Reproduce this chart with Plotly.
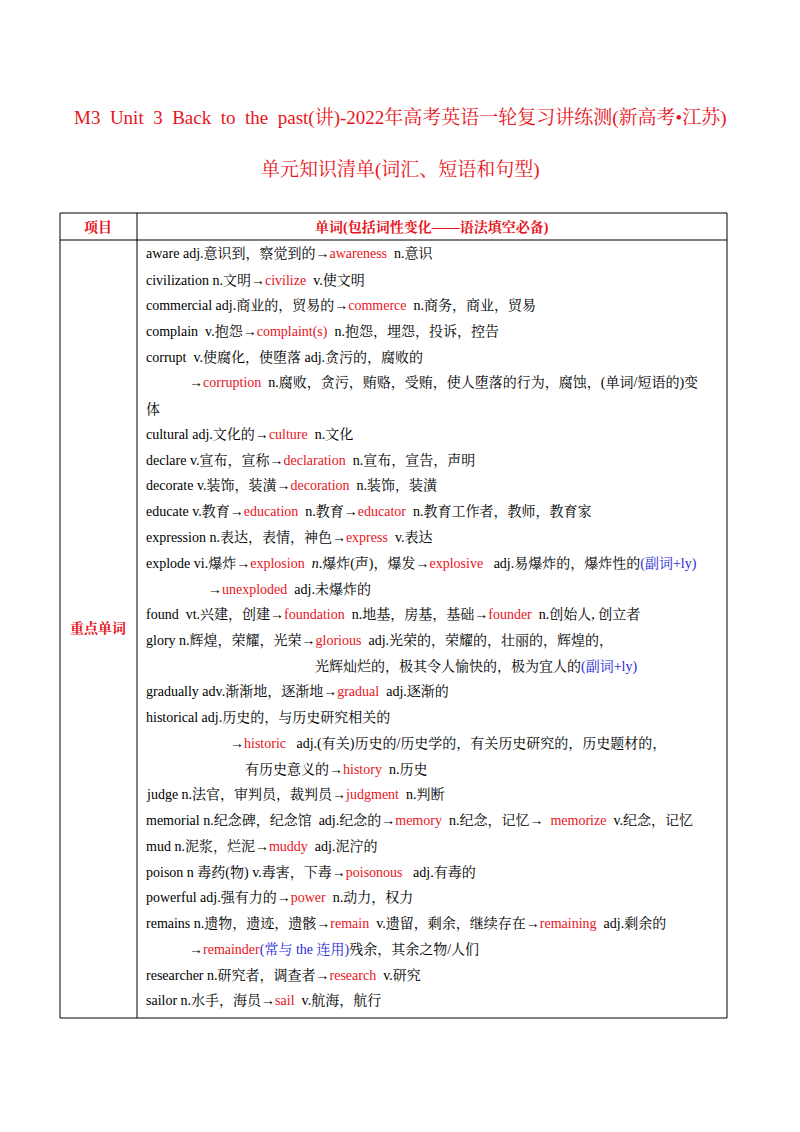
import plotly.graph_objects as go

title1 = "M3  Unit  3  Back  to  the  past(讲)-2022年高考英语一轮复习讲练测(新高考•江苏)"
title2 = "单元知识清单(词汇、短语和句型)"
header_left = "项目"
header_right = "单词(包括词性变化——语法填空必备)"
row_label = "重点单词"

K, R, B = "#000000", "#e8141b", "#2b2bd9"
lines = [
    (144, [("aware adj.意识到，察觉到的→", K), ("awareness", R), ("  n.意识", K)]),
    (144, [("civilization n.文明→", K), ("civilize", R), ("  v.使文明", K)]),
    (144, [("commercial adj.商业的，贸易的→", K), ("commerce", R), ("  n.商务，商业，贸易", K)]),
    (144, [("complain  v.抱怨→", K), ("complaint(s)", R), ("  n.抱怨，埋怨，投诉，控告", K)]),
    (144, [("corrupt  v.使腐化，使堕落 adj.贪污的，腐败的", K)]),
    (187, [("→", K), ("corruption", R), ("  n.腐败，贪污，贿赂，受贿，使人堕落的行为，腐蚀，(单词/短语的)变", K)]),
    (144, [("体", K)]),
    (144, [("cultural adj.文化的→", K), ("culture", R), ("  n.文化", K)]),
    (144, [("declare v.宣布，宣称→", K), ("declaration", R), ("  n.宣布，宣告，声明", K)]),
    (144, [("decorate v.装饰，装潢→", K), ("decoration", R), ("  n.装饰，装潢", K)]),
    (144, [("educate v.教育→", K), ("education", R), ("  n.教育→", K), ("educator", R), ("  n.教育工作者，教师，教育家", K)]),
    (144, [("expression n.表达，表情，神色→", K), ("express", R), ("  v.表达", K)]),
    (144, [("explode vi.爆炸→", K), ("explosion", R), ("  <i>n</i>.爆炸(声)，爆发→", K), ("explosive", R), ("   adj.易爆炸的，爆炸性的", K), ("(副词+ly)", B)]),
    (206, [("→", K), ("unexploded", R), ("  adj.未爆炸的", K)]),
    (144, [("found  vt.兴建，创建→", K), ("foundation", R), ("  n.地基，房基，基础→", K), ("founder", R), ("  n.创始人, 创立者", K)]),
    (144, [("glory n.辉煌，荣耀，光荣→", K), ("glorious", R), ("  adj.光荣的，荣耀的，壮丽的，辉煌的，", K)]),
    (313, [("光辉灿烂的，极其令人愉快的，极为宜人的", K), ("(副词+ly)", B)]),
    (144, [("gradually adv.渐渐地，逐渐地→", K), ("gradual", R), ("  adj.逐渐的", K)]),
    (144, [("historical adj.历史的，与历史研究相关的", K)]),
    (228, [("→", K), ("historic", R), ("   adj.(有关)历史的/历史学的，有关历史研究的，历史题材的，", K)]),
    (243, [("有历史意义的→", K), ("history", R), ("  n.历史", K)]),
    (144, [("judge n.法官，审判员，裁判员→", K), ("judgment", R), ("  n.判断", K)]),
    (144, [("memorial n.纪念碑，纪念馆  adj.纪念的→", K), ("memory", R), ("  n.纪念，记忆→  ", K), ("memorize", R), ("  v.纪念，记忆", K)]),
    (144, [("mud n.泥浆，烂泥→", K), ("muddy", R), ("  adj.泥泞的", K)]),
    (144, [("poison n 毒药(物) v.毒害，下毒→", K), ("poisonous", R), ("   adj.有毒的", K)]),
    (144, [("powerful adj.强有力的→", K), ("power", R), ("  n.动力，权力", K)]),
    (144, [("remains n.遗物，遗迹，遗骸→", K), ("remain", R), ("  v.遗留，剩余，继续存在→", K), ("remaining", R), ("  adj.剩余的", K)]),
    (187, [("→", K), ("remainder", R), ("(常与 the 连用)", B), ("残余，其余之物/人们", K)]),
    (144, [("researcher n.研究者，调查者→", K), ("research", R), ("  v.研究", K)]),
    (144, [("sailor n.水手，海员→", K), ("sail", R), ("  v.航海，航行", K)]),
]

FONT = "Liberation Serif, Noto Serif CJK SC, Noto Sans CJK SC"
OFF = 8
fig = go.Figure()
ann = []
ann.append(dict(x=400 - OFF, y=118 - OFF, text=title1, font=dict(size=19, color=R, family=FONT), showarrow=False, xanchor="center", yanchor="middle"))
ann.append(dict(x=400 - OFF, y=170 - OFF, text=title2, font=dict(size=19, color=R, family=FONT), showarrow=False, xanchor="center", yanchor="middle"))
ann.append(dict(x=98 - OFF, y=227 - OFF, text="<b>" + header_left + "</b>", font=dict(size=14, color=R, family=FONT), showarrow=False))
ann.append(dict(x=432 - OFF, y=227 - OFF, text="<b>" + header_right + "</b>", font=dict(size=14, color=R, family=FONT), showarrow=False))
ann.append(dict(x=98 - OFF, y=628 - OFF, text="<b>" + row_label + "</b>", font=dict(size=14, color=R, family=FONT), showarrow=False))

y0, dy = 254, 25.75
for i, (ix, segs) in enumerate(lines):
    txt = "".join(f'<span style="color:{c}">{t.replace("  ", "&nbsp; ")}</span>' for t, c in segs)
    ann.append(dict(x=ix - OFF, y=y0 + i * dy - OFF, text=txt, font=dict(size=14, color=K, family=FONT),
                    showarrow=False, xanchor="left", yanchor="middle"))

lw = dict(color="black", width=1)
shapes = [
    dict(type="rect", x0=60 - OFF, x1=727 - OFF, y0=213 - OFF, y1=1018 - OFF, line=lw),
    dict(type="line", x0=60 - OFF, x1=727 - OFF, y0=240 - OFF, y1=240 - OFF, line=lw),
    dict(type="line", x0=137 - OFF, x1=137 - OFF, y0=213 - OFF, y1=1018 - OFF, line=lw),
]

fig.update_layout(width=800, height=1132, margin=dict(l=0, r=0, t=0, b=0),
                  paper_bgcolor="white", plot_bgcolor="white",
                  xaxis=dict(range=[0, 800], visible=False, fixedrange=True),
                  yaxis=dict(range=[1132, 0], visible=False, fixedrange=True),
                  annotations=ann, shapes=shapes, showlegend=False)
fig.write_html("out.html")
